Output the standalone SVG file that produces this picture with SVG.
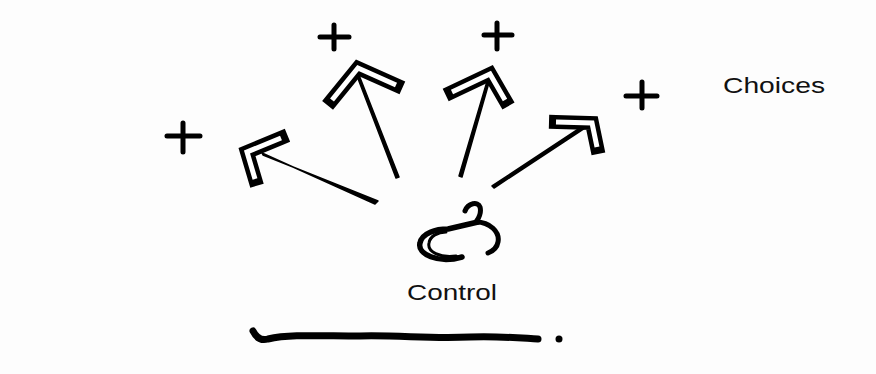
<svg xmlns="http://www.w3.org/2000/svg" width="876" height="374" viewBox="0 0 876 374">
<style>
.bg{fill:#fdfdfd}
.ink{fill:none;stroke:#000;stroke-linecap:round;stroke-linejoin:round}
.plus{fill:none;stroke:#000;stroke-width:5;stroke-linecap:round}
.shaft{fill:#000;stroke:#000;stroke-width:1.5;stroke-linejoin:round}
.head-o{fill:none;stroke:#000;stroke-width:14;stroke-linecap:square;stroke-linejoin:miter}
.head-i{fill:none;stroke:#fff;stroke-width:5;stroke-linecap:butt;stroke-linejoin:miter}
.lbl{font-family:"Century Gothic","URW Gothic","Liberation Sans",sans-serif;font-size:22px;fill:#111}
</style>
<rect class="bg" x="0" y="0" width="876" height="374"/>
<g id="plus-signs">
<path class="plus" d="M167 136 H200 M183 123 V152"/>
<path class="plus" d="M320 37 H349 M334 25 V49"/>
<path class="plus" d="M484 35 H512 M497 23 V49"/>
<path class="plus" d="M626 96 H657 M642 82 V108"/>
</g>
<g id="choices">
<text class="lbl" x="723" y="93" textLength="102" lengthAdjust="spacingAndGlyphs">Choices</text>
</g>
<g id="control">
<path class="ink" style="stroke-width:5.5" d="M462 257 C438 264 417 254 420 243 C422 233 436 229 448 229 L478 222"/>
<path class="ink" style="stroke-width:3" d="M456 256 C440 258 427 252 429 243 C430 236 438 232 446 232"/>
<path class="ink" style="stroke-width:5" d="M465 211 C468 203 478 201 480 207 C482 214 478 219 476 222 C490 222 500 232 498 242 C497 248 493 251 488 253"/>
<text class="lbl" x="407" y="300" textLength="90" lengthAdjust="spacingAndGlyphs">Control</text>
</g>
<g id="connectors">
<path class="shaft" d="M262 153 L263 155 L378 201 L375 204 Z"/>
<path class="head-o" d="M281 138 L247 152 L255 179"/>
<path class="head-i" d="M281 138 L247 152 L255 179"/>
<path class="shaft" d="M357 76 L359 75 L399 177 L396 178 Z"/>
<path class="head-o" d="M332 100 L358 68 L396 85"/>
<path class="head-i" d="M332 100 L358 68 L396 85"/>
<path class="shaft" d="M488 78 L490 79 L462 177 L459 176 Z"/>
<path class="head-o" d="M452 92 L490 74 L505 100"/>
<path class="head-i" d="M452 92 L490 74 L505 100"/>
<path class="shaft" d="M586 124 L588 126 L494 188 L492 186 Z"/>
<path class="head-o" d="M556 122 L592 123 L597 147"/>
<path class="head-i" d="M556 122 L592 123 L597 147"/>
</g>
<g id="baseline">
<path class="ink" style="stroke-width:7" d="M253 331 C256 337 261 341 268 339 C290 334 320 336 360 336 C400 335 430 339 470 337 C500 336 520 338 538 339"/>
<circle cx="559" cy="339" r="3.5" fill="#000"/>
</g>
</svg>
